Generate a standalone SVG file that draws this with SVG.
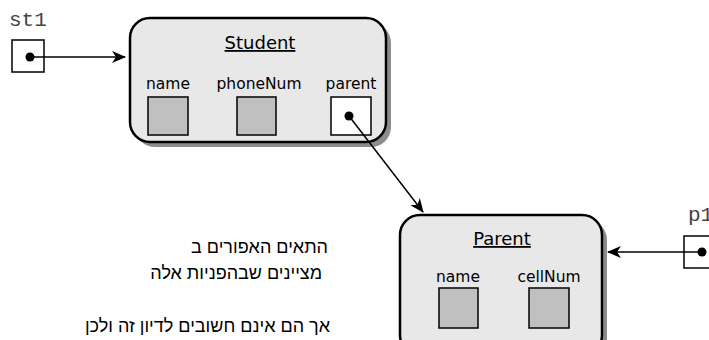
<svg xmlns="http://www.w3.org/2000/svg" width="709" height="340" viewBox="0 0 709 340">
<style>
.shadow{fill:#8c8c8c}
.obj{fill:#e8e8e8;stroke:#000;stroke-width:2.5}
.field{fill:#c0c0c0;stroke:#000;stroke-width:1.5}
.ref{fill:#fff;stroke:#000;stroke-width:1.5}
.title{font-family:"DejaVu Sans",Verdana,sans-serif;font-size:18px;text-anchor:middle;text-decoration:underline;fill:#000}
.lbl{font-family:"DejaVu Sans",Verdana,sans-serif;font-size:15.5px;text-anchor:middle;fill:#000}
.var{font-family:"Liberation Mono","Courier New",monospace;font-size:21px;fill:#444}
.heb{font-family:"Liberation Sans",Arial,sans-serif;font-size:18px;fill:#000;text-anchor:end}
.conn{stroke:#000;stroke-width:1.5;fill:none}
</style>
<defs>
<marker id="arr" viewBox="0 0 14 12" refX="13" refY="6" markerWidth="14" markerHeight="12" markerUnits="userSpaceOnUse" orient="auto">
<path d="M0,0 L14,6 L0,12 L4,6 Z" fill="#000"/>
</marker>
</defs>
<g id="st1">
<text class="var" x="9" y="26">st1</text>
<rect class="ref" x="12" y="40" width="32" height="32"/>
<circle cx="30" cy="57" r="4.5" fill="#000"/>
</g>
<g id="student">
<rect class="shadow" x="135" y="23" width="256" height="124" rx="20"/>
<rect class="obj" x="130" y="18" width="256" height="124" rx="20"/>
<text class="title" x="260" y="49">Student</text>
<text class="lbl" x="168" y="89">name</text>
<text class="lbl" x="259" y="89">phoneNum</text>
<text class="lbl" x="351" y="89">parent</text>
<rect class="field" x="148" y="97" width="40" height="38"/>
<rect class="field" x="237" y="97" width="39" height="38"/>
<rect class="ref" x="331" y="97" width="40" height="38"/>
<circle cx="349" cy="116" r="4.5" fill="#000"/>
</g>
<g id="parent">
<rect class="shadow" x="405" y="220" width="202" height="140" rx="20"/>
<rect class="obj" x="400" y="215" width="202" height="140" rx="20"/>
<text class="title" x="502" y="245">Parent</text>
<text class="lbl" x="458" y="282">name</text>
<text class="lbl" x="549" y="282">cellNum</text>
<rect class="field" x="439" y="288" width="39" height="40"/>
<rect class="field" x="529" y="288" width="40" height="40"/>
</g>
<g id="p1">
<text class="var" x="688" y="221">p1</text>
<rect class="ref" x="684" y="236" width="40" height="32"/>
<circle cx="702" cy="252" r="4.5" fill="#000"/>
</g>
<g id="note">
<text class="heb" x="328" y="253">התאים האפורים ב</text>
<text class="heb" x="322" y="279">מציינים שבהפניות אלה</text>
<text class="heb" x="330" y="332">אך הם אינם חשובים לדיון זה ולכן</text>
</g>
<g id="connectors">
<line class="conn" x1="30" y1="57" x2="125" y2="57" marker-end="url(#arr)"/>
<line class="conn" x1="349" y1="116" x2="423" y2="212" marker-end="url(#arr)"/>
<line class="conn" x1="702" y1="252" x2="608" y2="252" marker-end="url(#arr)"/>
</g>
</svg>
